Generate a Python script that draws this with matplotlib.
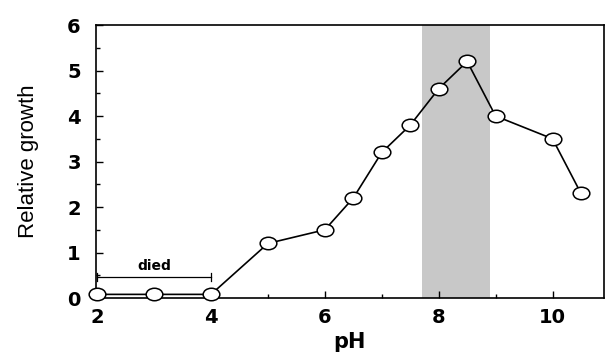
import matplotlib.pyplot as plt
from matplotlib.ticker import MultipleLocator
from matplotlib.path import Path
import numpy as np

# data
ph = [2, 3, 4, 5, 6, 6.5, 7, 7.5, 8, 8.5, 9, 10, 10.5]
growth = [0.08, 0.08, 0.08, 1.2, 1.5, 2.2, 3.2, 3.8, 4.6, 5.2, 4.0, 3.5, 2.3]
optimum = [7.7, 8.9]
died_range = [2, 4]
died_level = 0.46

plt.rcParams['font.family'] = ['DejaVu Sans']

# slightly flattened open circle, like the scanned figure
circle = Path.unit_circle()
ellipse = Path(circle.vertices * np.array([1.0, 0.75]), circle.codes)

fig = plt.figure(figsize=(6.08, 3.63), dpi=100)
ax = fig.add_axes([0.158, 0.179, 0.835, 0.752])

ax.axvspan(optimum[0], optimum[1], color='#c8c8c8', lw=0, zorder=0)

ax.plot(ph, growth, color='black', lw=1.2, marker=ellipse, markersize=12,
        markerfacecolor='white', markeredgecolor='black', markeredgewidth=1.1,
        clip_on=False, zorder=3)

# "died" bracket
ax.plot(died_range, [died_level, died_level], color='black', lw=0.9)
ax.plot([died_range[0]] * 2, [died_level - 0.08, died_level + 0.08], color='black', lw=0.9)
ax.plot([died_range[1]] * 2, [died_level - 0.08, died_level + 0.08], color='black', lw=0.9)
ax.text(sum(died_range) / 2, died_level + 0.1, 'died', ha='center', va='bottom',
        fontsize=10, fontweight='bold')

ax.set_xlim(1.98, 10.9)
ax.set_ylim(0, 6)
ax.xaxis.set_major_locator(MultipleLocator(2))
ax.xaxis.set_minor_locator(MultipleLocator(1))
ax.yaxis.set_major_locator(MultipleLocator(1))
ax.yaxis.set_minor_locator(MultipleLocator(0.5))

ax.tick_params(which='both', direction='in', width=1, labelsize=14)
ax.tick_params(which='major', length=5)
ax.tick_params(which='minor', length=3)
ax.tick_params(axis='x', pad=7)
ax.tick_params(axis='y', pad=11)
for lab in ax.get_xticklabels() + ax.get_yticklabels():
    lab.set_fontweight('bold')

for s in ax.spines.values():
    s.set_linewidth(1.2)

ax.set_xlabel('pH', fontsize=15, fontweight='bold', labelpad=4)
ax.set_ylabel('Relative growth', fontsize=16,
              family=['Liberation Sans', 'DejaVu Sans'], labelpad=20)

plt.savefig('out.png', dpi=100)
